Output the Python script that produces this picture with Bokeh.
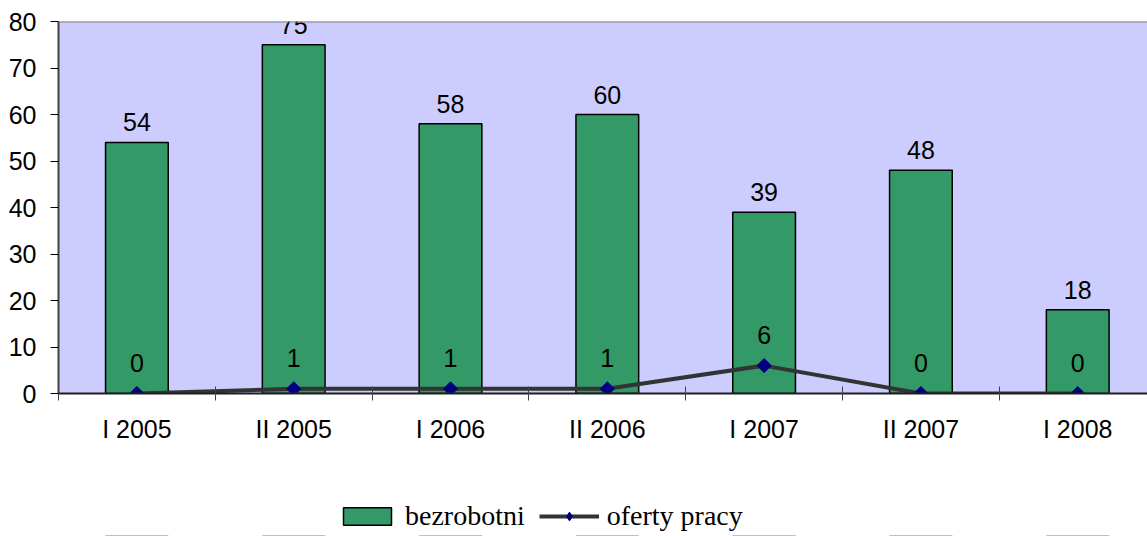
import math
from bokeh.plotting import figure
from bokeh.layouts import column
from bokeh.models import (ColumnDataSource, Range1d, FixedTicker, Legend,
                          LegendItem, Span)
from bokeh.core.properties import value
from bokeh.embed import file_html
from bokeh.resources import INLINE

categories = ["I 2005", "II 2005", "I 2006", "II 2006", "I 2007", "II 2007", "I 2008"]
bezrobotni = [54, 75, 58, 60, 39, 48, 18]
oferty_pracy = [0, 1, 1, 1, 6, 0, 0]
y_ticks = [0, 10, 20, 30, 40, 50, 60, 70, 80]
series_names = ["bezrobotni", "oferty pracy"]

xs = list(range(len(categories)))
src = ColumnDataSource(dict(
    x=xs,
    bez=bezrobotni,
    ofe=oferty_pracy,
    bez_lbl=[str(v) for v in bezrobotni],
    ofe_lbl=[str(v) for v in oferty_pracy],
))

AX_FONT = "Liberation Sans"
BAR_STYLE = dict(fill_color="#339966", line_color="black", line_width=1.5)
LINE_STYLE = dict(line_color="#333333", line_width=4)
PT_COLORS = dict(fill_color="#000080", line_color="#000080")

p = figure(width=1147, height=470, output_backend="svg", toolbar_location=None,
           x_range=Range1d(-0.5, 6.445), y_range=Range1d(0, 80),
           min_border_left=58, min_border_right=0, min_border_top=21,
           min_border_bottom=77)
p.background_fill_color = "#CCCCFF"
p.border_fill_color = "white"
p.outline_line_color = None
p.xgrid.grid_line_color = None
p.ygrid.grid_line_color = None

# top border of plot area
p.add_layout(Span(location=80, dimension="width", line_color="#808080", line_width=2))

bars = p.vbar(x="x", top="bez", width=0.4, source=src, **BAR_STYLE)
line = p.line(x="x", y="ofe", source=src, **LINE_STYLE)
pts = p.scatter(x="x", y="ofe", source=src, marker="square", angle=math.pi / 4,
                size=10, **PT_COLORS)

p.text(x="x", y="bez", text="bez_lbl", source=src, text_align="center",
       text_baseline="alphabetic", y_offset=-20, text_font=value(AX_FONT),
       text_font_size="25px", text_color="black")
p.text(x="x", y="ofe", text="ofe_lbl", source=src, text_align="center",
       text_baseline="alphabetic", y_offset=-31, text_font=value(AX_FONT),
       text_font_size="25px", text_color="black")

# y axis
p.yaxis.ticker = FixedTicker(ticks=y_ticks)
p.yaxis.axis_line_color = "#404040"
p.yaxis.axis_line_width = 2
p.yaxis.major_tick_in = 0
p.yaxis.major_tick_out = 8
p.yaxis.major_tick_line_color = "black"
p.yaxis.minor_tick_line_color = None
p.yaxis.major_label_standoff = 14
p.yaxis.major_label_text_font = AX_FONT
p.yaxis.major_label_text_font_size = "25px"
p.yaxis.major_label_text_color = "black"

# x axis
p.xaxis.ticker = FixedTicker(ticks=xs, minor_ticks=[i - 0.5 for i in range(len(categories) + 1)])
p.xaxis.major_label_overrides = {i: c for i, c in enumerate(categories)}
p.xaxis.axis_line_color = "#202020"
p.xaxis.axis_line_width = 2
p.xaxis.major_tick_line_color = None
p.xaxis.major_tick_in = 0
p.xaxis.major_tick_out = 0
p.xaxis.minor_tick_line_color = "#404040"
p.xaxis.minor_tick_in = 7
p.xaxis.minor_tick_out = 7
p.xaxis.major_label_standoff = 14
p.xaxis.major_label_text_font = AX_FONT
p.xaxis.major_label_text_font_size = "25px"
p.xaxis.major_label_text_color = "black"

# legend strip (separate figure below the chart, same glyph styles;
# its y range lies above all values, so the series stay clipped out of view)
lf = figure(width=1147, height=66, output_backend="svg", toolbar_location=None,
            x_axis_type=None, y_axis_type=None, min_border=0,
            x_range=Range1d(-0.5, 6.445), y_range=Range1d(200, 280))
lf.outline_line_color = None
lf.xgrid.grid_line_color = None
lf.ygrid.grid_line_color = None
lf.background_fill_color = "white"
lb = lf.vbar(x="x", top="bez", width=0.4, source=src, **BAR_STYLE)
ll = lf.line(x="x", y="ofe", source=src, **LINE_STYLE)
lp = lf.scatter(x="x", y="ofe", source=src, marker="diamond", size=17, **PT_COLORS)

legend = Legend(items=[LegendItem(label=series_names[0], renderers=[lb]),
                       LegendItem(label=series_names[1], renderers=[ll, lp])],
                orientation="horizontal", location=(279, 4),
                label_text_font="Liberation Serif", label_text_font_size="28px",
                label_text_color="black", glyph_width=60, glyph_height=22,
                label_standoff=8, spacing=14, padding=0, margin=0,
                border_line_color=None, background_fill_alpha=0)
lf.add_layout(legend, "center")

layout = column(p, lf, spacing=0)
open("out.html", "w").write(file_html(layout, INLINE))
